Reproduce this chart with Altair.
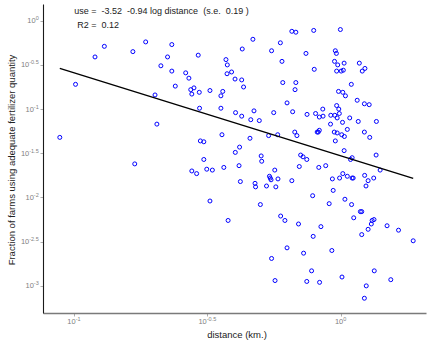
import math

import altair as alt
import pandas as pd

# log10 of distance to the input dealer (km.), one entry per village
log_distance = [
    -1.053, -0.994, -0.921, -0.886, -0.779, -0.731, -0.633, -0.649, -0.674, -0.633,
    -0.620, -0.696, -0.689, -0.772, -0.581, -0.569, -0.562, -0.550, -0.558, -0.534,
    -0.530, -0.529, -0.526, -0.513, -0.558, -0.540, -0.513, -0.502, -0.481, -0.490,
    -0.490, -0.449, -0.449, -0.445, -0.183, -0.168, -0.101, -0.001, -0.329, -0.226,
    -0.369, -0.259, -0.130, -0.020, -0.016, -0.430, -0.425, -0.220, -0.023, 0.013,
    0.070, -0.011, -0.409, -0.426, -0.099, -0.015, 0.002, 0.010, 0.081, 0.091,
    -0.396, -0.371, -0.364, -0.217, -0.168, -0.171, 0.040, -0.008, 0.008, 0.018,
    -0.442, -0.201, 0.062, 0.089, 0.107, -0.015, -0.325, -0.394, -0.371, -0.251,
    -0.180, -0.126, -0.094, -0.067, -0.080, -0.066, -0.037, -0.022, -0.007, -0.005,
    -0.013, 0.034, -0.337, -0.305, 0.007, 0.066, 0.134, -0.038, 0.025, -0.024,
    -0.013, 0.004, 0.014, 0.089, 0.109, -0.088, -0.080, -0.084, -0.172, -0.164,
    -0.270, -0.236, -0.340, -0.020, -0.379, -0.395, 0.013, -0.150, -0.141, -0.127,
    -0.298, -0.296, 0.043, 0.037, 0.133, -0.438, -0.381, -0.247, -0.155, -0.082,
    -0.056, 0.148, -0.376, -0.321, -0.319, -0.278, -0.267, -0.264, -0.261, -0.235,
    -0.243, -0.183, -0.031, -0.004, 0.008, 0.025, 0.043, 0.047, 0.090, 0.103,
    0.095, 0.124, -0.301, -0.105, -0.028, -0.043, 0.016, 0.041, 0.074, 0.079,
    0.049, -0.422, -0.225, -0.209, -0.158, -0.074, -0.103, -0.201, -0.259, -0.139,
    -0.033, -0.246, -0.127, -0.079, -0.109, 0.005, 0.096, 0.089, 0.126, 0.188,
    0.118, 0.125, 0.115, 0.103, 0.079, 0.174, 0.217, 0.272,
]

# log10 of the fraction of farms using an adequate fertilizer quantity
log_fraction = [
    -1.32, -0.72, -0.41, -0.29, -0.35, -0.24, -0.27, -0.41, -0.51, -0.57,
    -0.74, -0.84, -1.17, -1.62, -0.59, -0.65, -0.78, -0.76, -0.83, -0.39,
    -0.81, -0.99, -1.36, -1.37, -1.70, -1.73, -1.57, -1.68, -1.69, -2.04,
    -0.79, -0.85, -0.99, -1.29, -0.12, -0.13, -0.11, -0.10, -0.21, -0.25,
    -0.32, -0.34, -0.37, -0.34, -0.37, -0.44, -0.50, -0.46, -0.46, -0.48,
    -0.48, -0.50, -0.58, -0.60, -0.55, -0.57, -0.57, -0.56, -0.57, -0.54,
    -0.66, -0.67, -0.75, -0.70, -0.70, -0.78, -0.72, -0.80, -0.81, -0.85,
    -0.80, -0.93, -0.90, -0.94, -0.95, -0.96, -1.02, -1.04, -1.08, -1.04,
    -1.03, -1.06, -1.05, -1.00, -1.09, -1.08, -1.07, -1.07, -1.00, -1.05,
    -1.10, -1.10, -1.12, -1.13, -1.15, -1.14, -1.14, -1.17, -1.23, -1.26,
    -1.27, -1.29, -1.31, -1.26, -1.32, -1.26, -1.24, -1.26, -1.26, -1.30,
    -1.30, -1.29, -1.33, -1.36, -1.43, -1.49, -1.47, -1.52, -1.54, -1.57,
    -1.53, -1.59, -1.55, -1.57, -1.52, -1.66, -1.64, -1.69, -1.65, -1.66,
    -1.64, -1.69, -1.82, -1.84, -1.88, -1.87, -1.76, -1.78, -1.80, -1.79,
    -1.88, -1.81, -1.79, -1.78, -1.73, -1.76, -1.78, -1.78, -1.75, -1.81,
    -1.87, -1.78, -2.08, -1.98, -1.92, -2.07, -2.02, -2.08, -2.16, -2.16,
    -2.23, -2.26, -2.21, -2.26, -2.30, -2.33, -2.44, -2.57, -2.69, -2.63,
    -2.60, -2.94, -2.95, -2.96, -2.83, -2.90, -3.00, -3.14, -2.83, -2.93,
    -2.26, -2.25, -2.30, -2.36, -2.42, -2.32, -2.37, -2.49,
]

# fitted model (natural logs): use = a + b log distance
intercept = -3.52
slope = -0.94
slope_se = 0.19
r_squared = 0.12

# axis ticks, in log10 units, and the exponents printed on them
x_ticks = [-1.0, -0.5, 0.0]
x_tick_exps = ["-1", "-0.5", "0"]
y_ticks = [0.0, -0.5, -1.0, -1.5, -2.0, -2.5, -3.0]
y_tick_exps = ["0", "-0.5", "-1", "-1.5", "-2", "-2.5", "-3"]

W, H = 383, 309
X_DOMAIN = [-1.116, 0.320]
Y_DOMAIN = [-3.307, 0.189]
px_x = (X_DOMAIN[1] - X_DOMAIN[0]) / W  # data units per pixel along x

LABEL_GREY = "#7f7f7f"
BASE_FS, EXP_FS = 7.5, 5.5
FONT = "Liberation Sans"

# approximate advance widths (em) of the glyphs used in the tick labels
CHAR_EM = {"-": 0.333, ".": 0.278}


def text_width(s, size):
    return sum(CHAR_EM.get(c, 0.556) for c in s) * size


base_w = text_width("10", BASE_FS)

xs = alt.Scale(domain=X_DOMAIN, nice=False, zero=False)
ys = alt.Scale(domain=Y_DOMAIN, nice=False, zero=False)

x_axis = alt.Axis(
    values=x_ticks, labels=False, grid=False, tickSize=3, tickColor="#999999",
    tickWidth=0.8, domainColor="#7a7a7a", domainWidth=1.6,
    title="distance (km.)", titleFont=FONT, titleFontSize=9.5,
    titleFontWeight="normal", titleColor="#222222",
    titleX=W / 2 + 2, titleY=21.5, titleBaseline="middle",
)
y_axis = alt.Axis(
    values=y_ticks, labels=False, grid=False, tickSize=3, tickColor="#999999",
    tickWidth=0.8, domainColor="#1a1a1a", domainWidth=1.1,
    title="Fraction of farms using adequate fertilizer quantity", titleFont=FONT,
    titleFontSize=9.5, titleFontWeight="normal", titleColor="#222222",
    titleX=-31.3, titleY=H / 2 + 1, titleBaseline="middle", titleAngle=-90,
)


def X(field):
    return alt.X(f"{field}:Q", scale=xs, axis=x_axis)


def Y(field):
    return alt.Y(f"{field}:Q", scale=ys, axis=y_axis)


points = pd.DataFrame({"lx": log_distance, "ly": log_fraction})

# regression line over the observed range, converted to log10 units
lx_lo, lx_hi = min(log_distance), max(log_distance)
a10 = intercept / math.log(10)
fit = pd.DataFrame({"lx": [lx_lo, lx_hi], "ly": [a10 + slope * lx_lo, a10 + slope * lx_hi]})

scatter = alt.Chart(points).mark_point(
    shape="circle", filled=False, color="#0000ff", size=16, strokeWidth=1, opacity=1
).encode(x=X("lx"), y=Y("ly"))

line = alt.Chart(fit).mark_line(color="black", strokeWidth=1.4).encode(x=X("lx"), y=Y("ly"))

# tick labels of the form 10^e, drawn as base plus raised exponent
ylab = pd.DataFrame({"tick": y_ticks, "exp": y_tick_exps})
ylab["split"] = [X_DOMAIN[0] - (4.3 + text_width(e, EXP_FS)) * px_x for e in y_tick_exps]
xlab = pd.DataFrame({"tick": x_ticks, "exp": x_tick_exps})
xlab["split"] = [t + (base_w - text_width(e, EXP_FS)) / 2 * px_x for t, e in zip(x_ticks, x_tick_exps)]

y_base = alt.Chart(ylab).mark_text(
    align="right", baseline="middle", font=FONT, fontSize=BASE_FS, color=LABEL_GREY, dy=0.5
).encode(x=X("split"), y=Y("tick"), text=alt.value("10"))
y_exp = alt.Chart(ylab).mark_text(
    align="left", baseline="middle", font=FONT, fontSize=EXP_FS, color=LABEL_GREY, dy=-2.5
).encode(x=X("split"), y=Y("tick"), text="exp:N")

x_base = alt.Chart(xlab).mark_text(
    align="right", baseline="middle", font=FONT, fontSize=BASE_FS, color=LABEL_GREY
).encode(x=X("split"), y=alt.value(H + 9.3), text=alt.value("10"))
x_exp = alt.Chart(xlab).mark_text(
    align="left", baseline="middle", font=FONT, fontSize=EXP_FS, color=LABEL_GREY
).encode(x=X("split"), y=alt.value(H + 6.3), text="exp:N")

# model summary in the top-left corner, one row so each line is drawn once
sp = " \u00a0"
summary = pd.DataFrame({
    "line": [
        f"use ={sp}{intercept:.2f}{sp}{slope:.2f} log distance{sp}(s.e.{sp}{slope_se:.2f} )",
        f"R2 ={sp}{r_squared:.2f}",
    ],
    "row": [0, 1],
})

eq = alt.Chart(summary).transform_filter("datum.row == 0").mark_text(
    align="left", baseline="middle", font=FONT, fontSize=9, color="#222222"
).encode(x=alt.value(31.3), y=alt.value(7.3), text="line:N")
r2 = alt.Chart(summary).transform_filter("datum.row == 1").mark_text(
    align="left", baseline="middle", font=FONT, fontSize=9, color="#222222"
).encode(x=alt.value(34.3), y=alt.value(21.3), text="line:N")

chart = (
    alt.layer(scatter, line, y_base, y_exp, x_base, x_exp, eq, r2)
    .properties(
        width=W,
        height=H,
        autosize=alt.AutoSizeParams(type="none"),
        padding={"left": 43, "top": 4, "right": 1, "bottom": 30},
        background="white",
    )
    .configure_view(stroke=None)
)

chart.save("out.html", embed_options={"renderer": "svg", "actions": False})
